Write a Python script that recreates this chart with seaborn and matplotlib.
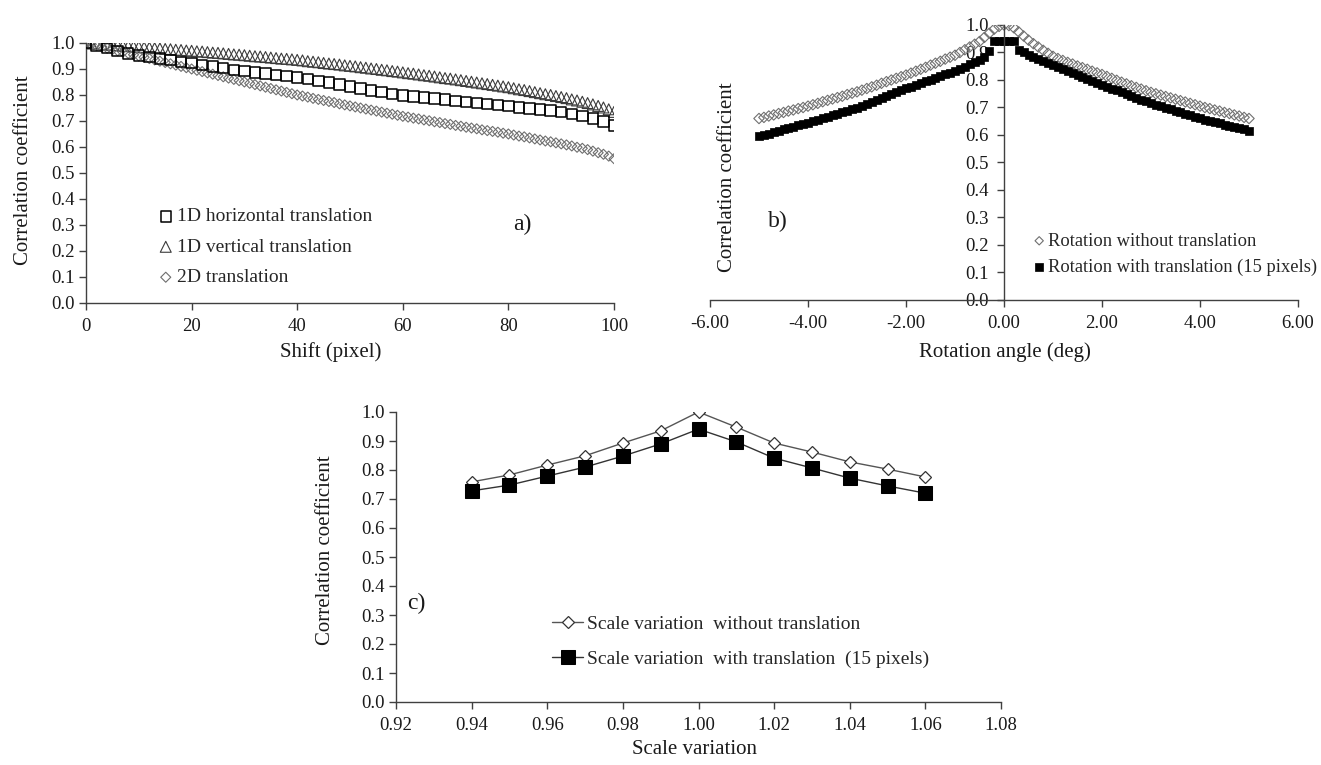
import matplotlib
matplotlib.use("Agg")
import matplotlib.pyplot as plt
import numpy as np
import seaborn as sns

sns.set_style("ticks")
plt.rcParams['font.family'] = ['Liberation Serif', 'DejaVu Serif']

INK = '#1a1a1a'
AXC = '#404040'

# ---- panel a: shift ----
shift_2 = list(range(0, 101, 2))
horiz_1d = [1.000, 0.990, 0.980, 0.970, 0.960, 0.952, 0.945, 0.940, 0.935, 0.928,
            0.922, 0.916, 0.910, 0.903, 0.897, 0.892, 0.887, 0.882, 0.878, 0.873,
            0.868, 0.862, 0.855, 0.848, 0.840, 0.832, 0.825, 0.818, 0.812, 0.805,
            0.798, 0.794, 0.790, 0.786, 0.782, 0.778, 0.774, 0.770, 0.766, 0.762,
            0.757, 0.752, 0.748, 0.744, 0.740, 0.735, 0.728, 0.720, 0.710, 0.698,
            0.682]

shift_1 = list(range(0, 101))
vert_1d = [1.000, 0.998, 0.997, 0.995, 0.994, 0.992, 0.991, 0.989, 0.988, 0.986, 0.985,
           0.983, 0.982, 0.980, 0.979, 0.977, 0.976, 0.974, 0.973, 0.971, 0.970,
           0.968, 0.967, 0.965, 0.963, 0.962, 0.960, 0.958, 0.956, 0.955, 0.953,
           0.951, 0.949, 0.948, 0.946, 0.944, 0.942, 0.940, 0.939, 0.937, 0.935,
           0.933, 0.930, 0.928, 0.926, 0.923, 0.921, 0.919, 0.917, 0.914, 0.912,
           0.910, 0.907, 0.905, 0.902, 0.900, 0.897, 0.895, 0.892, 0.890, 0.887,
           0.884, 0.882, 0.879, 0.876, 0.874, 0.871, 0.868, 0.865, 0.863, 0.860,
           0.857, 0.854, 0.851, 0.848, 0.845, 0.842, 0.839, 0.836, 0.833, 0.830,
           0.826, 0.822, 0.819, 0.815, 0.811, 0.807, 0.803, 0.800, 0.796, 0.792,
           0.788, 0.783, 0.779, 0.774, 0.769, 0.764, 0.758, 0.752, 0.745, 0.735]

trans_2d = [1.000, 0.995, 0.990, 0.985, 0.980, 0.975, 0.970, 0.965, 0.960, 0.955, 0.950,
            0.945, 0.940, 0.935, 0.930, 0.925, 0.920, 0.915, 0.910, 0.905, 0.900,
            0.895, 0.890, 0.885, 0.880, 0.875, 0.870, 0.865, 0.860, 0.855, 0.850,
            0.845, 0.840, 0.835, 0.830, 0.825, 0.820, 0.815, 0.810, 0.805, 0.800,
            0.796, 0.792, 0.787, 0.783, 0.779, 0.775, 0.771, 0.766, 0.762, 0.758,
            0.754, 0.750, 0.746, 0.742, 0.738, 0.734, 0.730, 0.726, 0.722, 0.718,
            0.715, 0.711, 0.708, 0.704, 0.701, 0.697, 0.694, 0.690, 0.687, 0.683,
            0.680, 0.676, 0.673, 0.670, 0.666, 0.663, 0.660, 0.657, 0.653, 0.650,
            0.646, 0.642, 0.639, 0.635, 0.631, 0.627, 0.623, 0.620, 0.616, 0.612,
            0.608, 0.604, 0.599, 0.595, 0.590, 0.584, 0.578, 0.572, 0.565, 0.555]

# ---- panel b: rotation ----
angle = np.round(np.arange(-50, 51) / 10.0, 1)
rot_no_trans = [0.660, 0.664, 0.669, 0.673, 0.678, 0.682, 0.687, 0.691, 0.696, 0.700,
                0.705, 0.710, 0.715, 0.721, 0.726, 0.731, 0.736, 0.741, 0.747, 0.752,
                0.757, 0.763, 0.769, 0.775, 0.781, 0.788, 0.794, 0.800, 0.806, 0.812,
                0.818, 0.825, 0.832, 0.839, 0.846, 0.854, 0.861, 0.868, 0.876, 0.883,
                0.890, 0.900, 0.910, 0.920, 0.930, 0.940, 0.955, 0.970, 0.985, 0.995,
                1.000,
                0.998, 0.990, 0.975, 0.960, 0.945, 0.932, 0.920, 0.908, 0.897, 0.886,
                0.878, 0.871, 0.864, 0.858, 0.851, 0.845, 0.839, 0.832, 0.826, 0.820,
                0.813, 0.806, 0.799, 0.792, 0.786, 0.779, 0.773, 0.767, 0.761, 0.755,
                0.750, 0.745, 0.740, 0.735, 0.730, 0.725, 0.720, 0.715, 0.710, 0.705,
                0.700, 0.696, 0.691, 0.687, 0.682, 0.678, 0.673, 0.669, 0.664, 0.660]
rot_with_trans = [0.595, 0.600, 0.605, 0.610, 0.615, 0.620, 0.625, 0.630, 0.635, 0.640,
                  0.645, 0.650, 0.655, 0.661, 0.666, 0.671, 0.676, 0.682, 0.687, 0.693,
                  0.698, 0.705, 0.712, 0.719, 0.726, 0.734, 0.741, 0.748, 0.755, 0.762,
                  0.770, 0.776, 0.782, 0.789, 0.795, 0.801, 0.807, 0.814, 0.820, 0.826,
                  0.833, 0.841, 0.849, 0.857, 0.865, 0.873, 0.885, 0.905, 0.940, 0.940,
                  0.940,
                  0.940, 0.940, 0.910, 0.900, 0.892, 0.884, 0.876, 0.868, 0.861, 0.854,
                  0.846, 0.839, 0.832, 0.825, 0.818, 0.810, 0.803, 0.796, 0.789, 0.782,
                  0.775, 0.768, 0.762, 0.755, 0.748, 0.742, 0.735, 0.728, 0.722, 0.715,
                  0.710, 0.704, 0.699, 0.693, 0.688, 0.682, 0.677, 0.671, 0.666, 0.660,
                  0.656, 0.651, 0.647, 0.642, 0.638, 0.633, 0.629, 0.624, 0.620, 0.615]

# ---- panel c: scale ----
scale = [0.94, 0.95, 0.96, 0.97, 0.98, 0.99, 1.00, 1.01, 1.02, 1.03, 1.04, 1.05, 1.06]
scale_no_trans = [0.759, 0.783, 0.817, 0.849, 0.893, 0.935, 1.000, 0.948, 0.893, 0.862, 0.828, 0.803, 0.776]
scale_with_trans = [0.728, 0.748, 0.779, 0.810, 0.848, 0.890, 0.941, 0.897, 0.841, 0.807, 0.772, 0.745, 0.720]

W, H = 1321, 765
fig = plt.figure(figsize=(W / 100, H / 100), dpi=100)


def px_axes(x0, x1, ytop, ybot):
    return fig.add_axes([x0 / W, 1 - ybot / H, (x1 - x0) / W, (ybot - ytop) / H])


def style(ax, ypad=3):
    for s in ['top', 'right']:
        ax.spines[s].set_visible(False)
    for s in ['left', 'bottom']:
        ax.spines[s].set_color(AXC)
        ax.spines[s].set_linewidth(1.0)
    ax.tick_params(length=5, width=1.0, color=AXC, labelsize=13.5, labelcolor=INK)
    ax.tick_params(axis='x', pad=6)
    ax.tick_params(axis='y', pad=ypad)
    ax.set_ylim(0, 1.0)
    ax.set_yticks(np.arange(0, 1.01, 0.1))
    ax.yaxis.set_major_formatter(matplotlib.ticker.FormatStrFormatter('%.1f'))


# panel a
ax1 = px_axes(86, 614, 43, 303)
sns.scatterplot(x=shift_2, y=horiz_1d, ax=ax1, marker='s', s=56, facecolor='none',
                edgecolor='black', linewidth=1.1, label='1D horizontal translation', zorder=3)
sns.scatterplot(x=shift_1, y=vert_1d, ax=ax1, marker='^', s=62, facecolor='none',
                edgecolor='#3a3a3a', linewidth=0.8, label='1D vertical translation')
sns.scatterplot(x=shift_1, y=trans_2d, ax=ax1, marker='D', s=26, facecolor='none',
                edgecolor='#6e6e6e', linewidth=0.8, label='2D translation')
style(ax1)
ax1.set_xlim(0, 100)
ax1.set_xticks([0, 20, 40, 60, 80, 100])
ax1.set_xlabel('Shift (pixel)', fontsize=15, color=INK)
ax1.set_ylabel('Correlation coefficient', fontsize=15, color=INK)
ax1.xaxis.set_label_coords(0.464, -0.15)
ax1.yaxis.set_label_coords(-0.10, 0.51)
ax1.legend(loc='upper left', bbox_to_anchor=(0.14, 0.366), frameon=False, fontsize=14,
           handlelength=0.6, handletextpad=0.3, labelspacing=0.66, borderpad=0,
           borderaxespad=0, scatterpoints=1)

# panel b
ax2 = px_axes(710, 1298, 25, 300)
sns.scatterplot(x=angle, y=rot_no_trans, ax=ax2, marker='D', s=28, facecolor='none',
                edgecolor='#707070', linewidth=0.8, label='Rotation without translation')
sns.scatterplot(x=angle, y=rot_with_trans, ax=ax2, marker='s', s=40, color='black',
                edgecolor='black', linewidth=0.5, label='Rotation with translation (15 pixels)')
style(ax2, ypad=6)
ax2.set_xlim(-6, 6)
ax2.set_xticks([-6, -4, -2, 0, 2, 4, 6])
ax2.xaxis.set_major_formatter(matplotlib.ticker.FormatStrFormatter('%.2f'))
ax2.spines['left'].set_position(('data', 0))
ax2.set_xlabel('Rotation angle (deg)', fontsize=15, color=INK)
ax2.set_ylabel('Correlation coefficient', fontsize=15, color=INK)
ax2.xaxis.set_label_coords(0.502, -0.153)
ax2.yaxis.set_label_coords(0.046, 0.447)
ax2.legend(loc='upper left', bbox_to_anchor=(0.552, 0.245), frameon=False, fontsize=13.3,
           handlelength=0.5, handletextpad=0.25, labelspacing=0.5, borderpad=0,
           borderaxespad=0, scatterpoints=1, markerscale=0.8)

# panel c
ax3 = px_axes(396, 1001, 412, 702)
sns.lineplot(x=scale, y=scale_no_trans, ax=ax3, color='#555555', linewidth=1.0, marker='D',
             markersize=6, markerfacecolor='white', markeredgecolor='#333333',
             markeredgewidth=0.9, label='Scale variation  without translation')
sns.lineplot(x=scale, y=scale_with_trans, ax=ax3, color='#333333', linewidth=1.0, marker='s',
             markersize=10, markerfacecolor='black', markeredgecolor='black',
             label='Scale variation  with translation  (15 pixels)')
style(ax3)
ax3.set_xlim(0.92, 1.08)
ax3.set_xticks([0.92, 0.94, 0.96, 0.98, 1.00, 1.02, 1.04, 1.06, 1.08])
ax3.xaxis.set_major_formatter(matplotlib.ticker.FormatStrFormatter('%.2f'))
ax3.set_xlabel('Scale variation', fontsize=15, color=INK)
ax3.set_ylabel('Correlation coefficient', fontsize=15, color=INK)
ax3.xaxis.set_label_coords(0.494, -0.131)
ax3.yaxis.set_label_coords(-0.101, 0.524)
ax3.legend(loc='upper left', bbox_to_anchor=(0.258, 0.30), frameon=False, fontsize=14,
           handlelength=1.6, handletextpad=0.2, labelspacing=0.91, borderpad=0,
           borderaxespad=0)

# panel tags
fig.text(522 / W, 1 - 224 / H, 'a)', fontsize=17, color=INK, ha='center', va='center')
fig.text(778 / W, 1 - 221 / H, 'b)', fontsize=17, color=INK, ha='center', va='center')
fig.text(416 / W, 1 - 603 / H, 'c)', fontsize=17, color=INK, ha='center', va='center')

fig.savefig('out.png', dpi=100, facecolor='white')
